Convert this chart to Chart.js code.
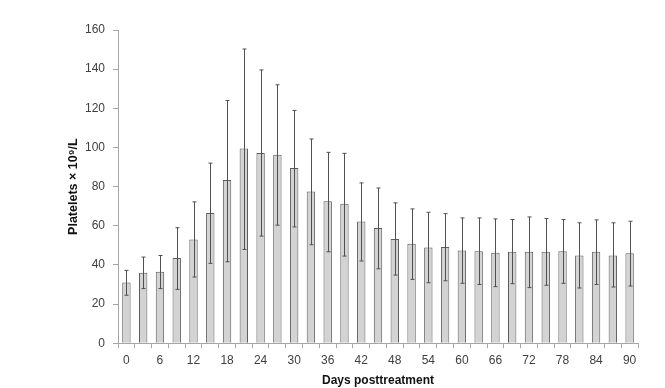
<!DOCTYPE html>
<html>
<head>
<meta charset="utf-8">
<script src="https://cdn.jsdelivr.net/npm/chart.js@4"></script>
<style>
  body { margin: 0; background: #fff; }
  #wrap { width: 665px; height: 388px; }
</style>
</head>
<body>
<div id="wrap"><canvas id="platelets" width="665" height="388"></canvas></div>
<script>
// Platelet counts by day after treatment (mean with error bars)
const days = [0, 3, 6, 9, 12, 15, 18, 21, 24, 27, 30, 33, 36, 39, 42, 45, 48, 51, 54, 57, 60, 63, 66, 69, 72, 75, 78, 81, 84, 87, 90];
const means = [31, 36, 36.5, 43.5, 53, 66.5, 83.4, 99.4, 97.2, 96.3, 89.5, 77.5, 72.5, 71.2, 62.2, 58.8, 53.2, 50.8, 48.9, 49.1, 47.4, 47, 46.2, 46.7, 46.7, 46.7, 47, 44.8, 46.7, 44.8, 45.9];
const upper = [37.2, 44, 44.8, 59, 72.2, 92, 124, 150.3, 139.6, 132, 118.9, 104.3, 97.5, 97, 81.9, 79.3, 71.7, 68.6, 66.9, 66.2, 64, 64, 63.5, 63.2, 64.5, 63.7, 63.2, 61.5, 63, 61.5, 62.3];
const lower = [24.5, 27.9, 27.9, 27.5, 33.8, 40.8, 41.6, 47.9, 54.7, 60.3, 59.4, 50.3, 46.7, 44.5, 42, 38, 34.8, 32.6, 30.9, 31.9, 30.6, 30, 28.9, 30.4, 28.4, 29.6, 30.6, 28.2, 30, 28.7, 29.2];
const yTicks = [0, 20, 40, 60, 80, 100, 120, 140, 160];

const axisGray = '#a6a6a6';
const textGray = '#404040';
const fontFamily = 'Liberation Sans, Arial, sans-serif';

// draws the error bars on top of the bars
const errorBars = {
    id: 'errorBars',
    afterDatasetsDraw(chart) {
        const ctx = chart.ctx;
        const y = chart.scales.y;
        const bars = chart.getDatasetMeta(0).data;
        ctx.save();
        ctx.strokeStyle = '#505050';
        ctx.lineWidth = 1;
        bars.forEach((bar, i) => {
            const x = Math.round(bar.x) + 0.5;
            const yTop = y.getPixelForValue(upper[i]);
            const yBot = y.getPixelForValue(lower[i]);
            ctx.beginPath();
            ctx.moveTo(x, yTop);
            ctx.lineTo(x, yBot);
            ctx.moveTo(x - 2, yTop);
            ctx.lineTo(x + 2, yTop);
            ctx.moveTo(x - 2, yBot);
            ctx.lineTo(x + 2, yBot);
            ctx.stroke();
        });
        ctx.restore();
    }
};

const canvas = document.getElementById('platelets');
const chart = new Chart(canvas, {
    type: 'bar',
    data: {
        labels: days,
        datasets: [{
            data: means,
            backgroundColor: '#d3d3d3',
            borderColor: '#5c5c5c',
            borderWidth: 1,
            categoryPercentage: 1,
            barPercentage: 0.5
        }]
    },
    options: {
        responsive: false,
        animation: false,
        layout: {
            padding: { left: 66, right: 27, top: 30, bottom: 0 }
        },
        plugins: {
            legend: { display: false },
            tooltip: { enabled: false }
        },
        scales: {
            x: {
                offset: true,
                grid: {
                    offset: true,
                    drawOnChartArea: false,
                    drawTicks: true,
                    tickLength: 5,
                    color: axisGray
                },
                border: { display: true, color: axisGray },
                ticks: {
                    autoSkip: false,
                    maxRotation: 0,
                    padding: 5,
                    color: textGray,
                    font: { family: fontFamily, size: 12 },
                    callback: (v, i) => (i % 2 === 0 ? String(days[i]) : '')
                },
                title: {
                    display: true,
                    text: 'Days posttreatment',
                    color: '#111',
                    padding: { top: 1, bottom: 0 },
                    font: { family: fontFamily, size: 12, weight: 'bold' }
                }
            },
            y: {
                min: 0,
                max: 160,
                afterBuildTicks: (axis) => { axis.ticks = yTicks.map(v => ({ value: v })); },
                grid: {
                    drawOnChartArea: false,
                    drawTicks: true,
                    tickLength: 5,
                    color: axisGray
                },
                border: { display: true, color: axisGray },
                ticks: {
                    padding: 8,
                    color: textGray,
                    font: { family: fontFamily, size: 12 }
                },
                title: {
                    display: true,
                    text: 'Platelets × 10⁹/L',
                    color: '#111',
                    padding: { top: 0, bottom: -4 },
                    font: { family: fontFamily, size: 12.5, weight: 'bold' }
                }
            }
        }
    },
    plugins: [errorBars]
});
</script>
</body>
</html>
